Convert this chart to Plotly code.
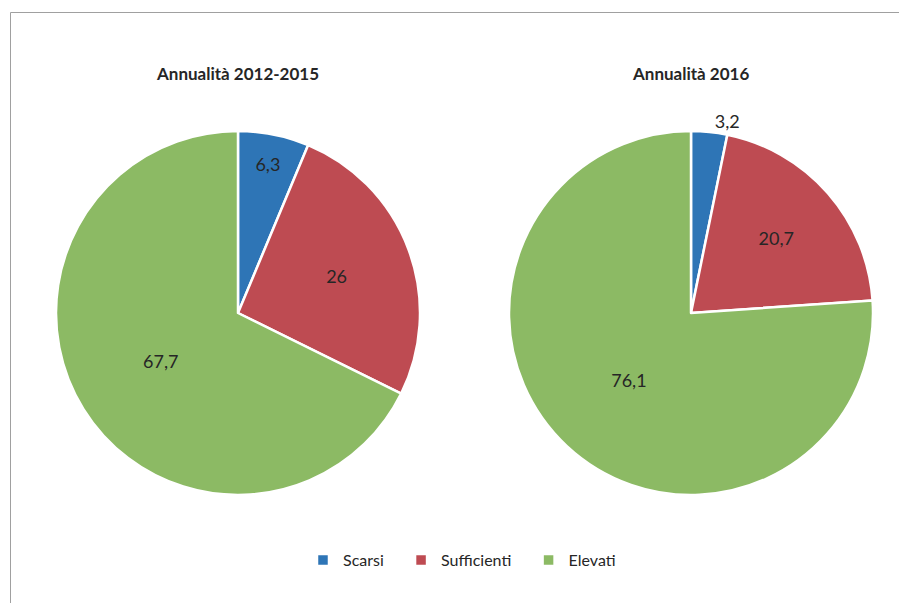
import plotly.graph_objects as go

categories = ["Scarsi", "Sufficienti", "Elevati"]
values_2012_2015 = [6.3, 26.0, 67.7]
values_2016 = [3.2, 20.7, 76.1]
titles = ["Annualità 2012-2015", "Annualità 2016"]
colors = ["#2E75B6", "#BE4B52", "#8CBA64"]

# page has an 8px body margin; work in figure pixels
W, H = 899, 595

def fmt(v):
    return f"{v:g}".replace(".", ",")

def pdom(cx, cy, r):
    return dict(x=[(cx - r) / W, (cx + r) / W], y=[1 - (cy + r) / H, 1 - (cy - r) / H])

# legend labels padded with non-breaking spaces for item spacing
pad = "\u00a0" * 3
legend_labels = [c + pad for c in categories[:-1]] + [categories[-1]]

common = dict(
    labels=legend_labels, textinfo="text", insidetextorientation="horizontal",
    sort=False, direction="clockwise", rotation=0,
    marker=dict(colors=colors, line=dict(color="white", width=2.5)),
    textfont=dict(size=18, color="#262626", family="Lato"),
    hoverinfo="label+value",
)

fig = go.Figure()
fig.add_trace(go.Pie(
    values=values_2012_2015, text=[fmt(v) for v in values_2012_2015],
    textposition="inside", domain=pdom(230, 305, 182), **common,
))
fig.add_trace(go.Pie(
    values=values_2016, text=[fmt(v) for v in values_2016],
    textposition=["outside", "inside", "inside"], domain=pdom(683, 305, 182), **common,
))

for t, cx in zip(titles, [229.5, 682.5]):
    fig.add_annotation(text=f"<b>{t}</b>", x=cx / W, y=1 - 65 / H, xref="paper", yref="paper",
                       showarrow=False, font=dict(size=17, color="#262626", family="Lato"),
                       xanchor="center", yanchor="middle")

fig.add_shape(type="line", xref="paper", yref="paper", x0=2.5 / W, x1=2.5 / W, y0=0, y1=1 - 4.5 / H,
              line=dict(color="#A0A0A0", width=1))
fig.add_shape(type="line", xref="paper", yref="paper", x0=2.5 / W, x1=1, y0=1 - 4.5 / H, y1=1 - 4.5 / H,
              line=dict(color="#A0A0A0", width=1))

fig.update_layout(
    width=W, height=H, margin=dict(l=0, r=0, t=0, b=0),
    paper_bgcolor="white", plot_bgcolor="white",
    showlegend=True,
    legend=dict(orientation="h", x=0.505, xanchor="center", y=1 - 552 / H, yanchor="middle",
                font=dict(size=16, color="#262626", family="Lato"), itemwidth=30,
                traceorder="normal"),
)

fig.write_html("out.html")
